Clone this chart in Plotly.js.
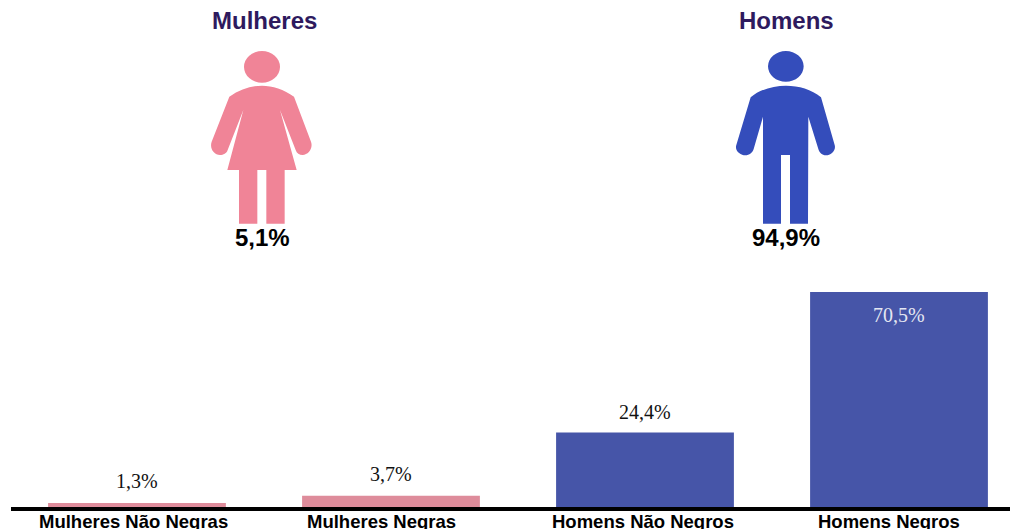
<!DOCTYPE html>
<html>
<head>
<meta charset="utf-8">
<script src="https://cdn.plot.ly/plotly-3.0.1.min.js"></script>
<style>html,body{margin:0;padding:0;background:#fff;overflow:hidden}#chart{width:1010px;height:529px}</style>
</head>
<body>
<div id="chart"></div>
<script>
var categories = ['Mulheres Não Negras', 'Mulheres Negras', 'Homens Não Negros', 'Homens Negros'];
var shares = [1.3, 3.7, 24.4, 70.5];
var barColors = ['#DE8C9B', '#DE8C9B', '#4655A8', '#4655A8'];
var labelColors = ['#111111', '#111111', '#111111', '#E4E7F2'];
var labelShifts = [22, 22, 21, -23];
var categoryShifts = [-3, -9.5, -2.5, -10];
var groupNames = ['Mulheres', 'Homens'];
var groupShares = [5.1, 94.9];
var groupColors = ['#F08497', '#344DBB'];

var W = 1010, H = 529, L = 11, T = 263, B = 22;
var plotW = W - L, plotH = H - T - B;
function fx(x) { return (x - L) / plotW; }
function fy(y) { return (H - B - y) / plotH; }
function fmt(v) { return v.toFixed(1).replace('.', ',') + '%'; }

// Icon outlines, in units of 1/3 px from the icon's crop origin
var womanPath = 'M118,290 C150,268 185,257 216,257 C247,257 282,268 312,290 L363,425 C370,445 355,465 338,465 C328,465 320,460 317,450 L270,330 L320,510 L284,510 L284,671 L229,671 L229,510 L202,510 L202,671 L147,671 L147,510 L112,510 L160,330 L113,450 C110,460 100,465 90,465 C72,465 58,445 65,425 Z';
var manPath = 'M122,292 C150,268 190,257 228,257 C266,257 305,268 333,292 L374,435 C379,452 362,466 348,466 C336,466 328,458 325,447 L295,350 L294,671 L240,671 L240,465 L213,465 L213,671 L159,671 L159,350 L131,447 C128,458 118,466 106,466 C92,466 73,452 79,435 Z';

function iconPath(path, ox) {
  return path.replace(/(\d+),(\d+)/g, function (m, a, b) {
    return fx(ox + (+a) / 3) + ',' + fy((+b) / 3);
  });
}
function iconShapes(path, ox, head, color) {
  return [
    {type: 'path', xref: 'paper', yref: 'paper', path: iconPath(path, ox), fillcolor: color, line: {width: 0}},
    {type: 'circle', xref: 'paper', yref: 'paper', x0: fx(ox + head[0] / 3), x1: fx(ox + head[1] / 3),
      y0: fy(head[2] / 3), y1: fy(head[3] / 3), fillcolor: color, line: {width: 0}}
  ];
}

var shapes = iconShapes(womanPath, 190, [162, 270, 153, 248], groupColors[0])
  .concat(iconShapes(manPath, 710, [174, 281, 153, 245], groupColors[1]));

var annotations = categories.map(function (c, i) {
  return {x: c, y: shares[i], xref: 'x', yref: 'y', text: fmt(shares[i]), showarrow: false,
    xanchor: 'center', yanchor: 'middle', yshift: labelShifts[i],
    font: {family: '"Liberation Serif", serif', size: 20, color: labelColors[i]}};
});
categories.forEach(function (c, i) {
  annotations.push({x: c, y: fy(521.5), xref: 'x', yref: 'paper', text: '<b>' + c + '</b>', showarrow: false,
    xanchor: 'center', yanchor: 'middle', xshift: categoryShifts[i],
    font: {family: '"Liberation Sans", Arial, sans-serif', size: 18.5, color: '#000000'}});
});
var groupX = [[264.5, 262.5], [786, 786]];
groupNames.forEach(function (g, i) {
  annotations.push({x: fx(groupX[i][0]), y: fy(21), xref: 'paper', yref: 'paper', text: '<b>' + g + '</b>',
    showarrow: false, xanchor: 'center', yanchor: 'middle',
    font: {family: '"Liberation Sans", Arial, sans-serif', size: 24, color: '#2E1A5E'}});
  annotations.push({x: fx(groupX[i][1]), y: fy(237.5), xref: 'paper', yref: 'paper', text: '<b>' + fmt(groupShares[i]) + '</b>',
    showarrow: false, xanchor: 'center', yanchor: 'middle',
    font: {family: '"Liberation Sans", Arial, sans-serif', size: 24, color: '#000000'}});
});

Plotly.newPlot('chart', [{
  type: 'bar', x: categories, y: shares, width: 0.7,
  marker: {color: barColors, line: {width: 0}}, hoverinfo: 'skip'
}], {
  width: W, height: H, autosize: false, showlegend: false,
  margin: {l: L, r: 0, t: T, b: B, pad: 0},
  paper_bgcolor: '#ffffff', plot_bgcolor: '#ffffff',
  font: {family: '"Liberation Sans", Arial, sans-serif', color: '#000000'},
  xaxis: {type: 'category', categoryorder: 'array', categoryarray: categories,
    range: [-0.496, 3.437], showgrid: false, zeroline: false, showline: true,
    linecolor: '#000000', linewidth: 3.5, ticks: '', showticklabels: false},
  yaxis: {range: [0, 80], visible: false, showgrid: false, zeroline: false},
  shapes: shapes, annotations: annotations
}, {displayModeBar: false, staticPlot: true});
</script>
</body>
</html>
